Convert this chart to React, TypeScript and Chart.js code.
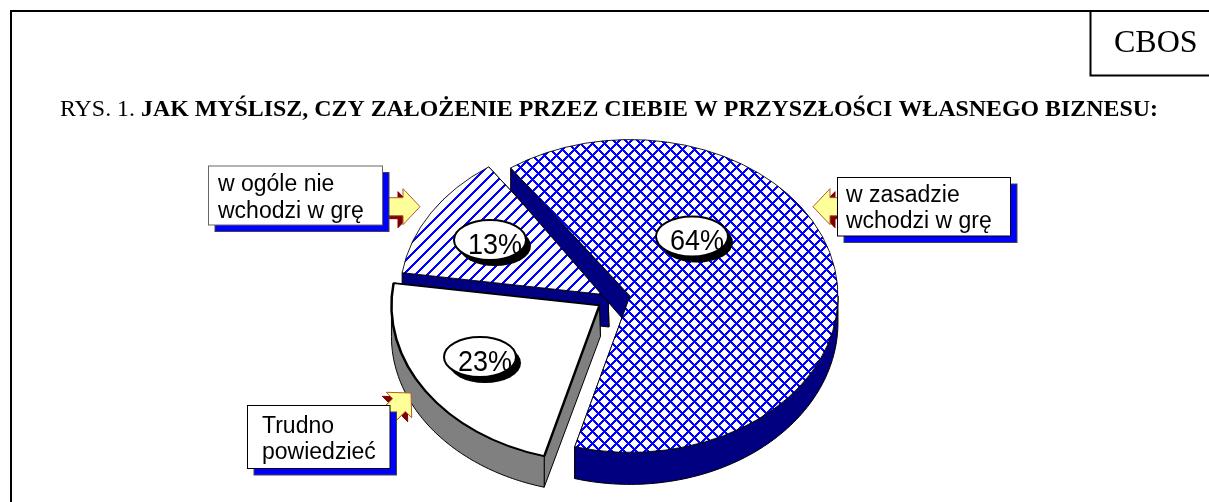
import React, { useEffect, useRef } from "react";
import Chart from "chart.js/auto";

// ---- data (clockwise from the start of the pie) ----
const categories = ["w ogóle nie wchodzi w grę", "w zasadzie wchodzi w grę", "Trudno powiedzieć"];
const shares = [13, 64, 23];
const titlePrefix = "RYS. 1. ";
const titleBold = "JAK MYŚLISZ, CZY ZAŁOŻENIE PRZEZ CIEBIE W PRZYSZŁOŚCI WŁASNEGO BIZNESU:";
const badge = "CBOS";
const calloutLines = [["w ogóle nie", "wchodzi w grę"], ["w zasadzie", "wchodzi w grę"], ["Trudno", "powiedzieć"]];

// ---- look ----
const W = 1209, H = 502;
const SQUASH = 0.752;
const CENTER_Y = 298;
const EXPLODE = [7.6, 15.7, 18];
const WALL = ["#000080", "#000080", "#808080"];
const APEX_DROP = [[1, 32], [-8, 22], [1, 31]];
const LABELS = [[490, 240], [692, 236.5], [480, 357]];
const SANS = '"Liberation Sans", Arial, sans-serif';
const SERIF = '"Liberation Serif", "Times New Roman", serif';

function tile(size: number, thick: number, up: boolean, down: boolean) {
  const c = document.createElement("canvas");
  c.width = c.height = size;
  const x = c.getContext("2d")!;
  x.fillStyle = "#fff";
  x.fillRect(0, 0, size, size);
  x.fillStyle = "#0000ff";
  for (let i = 0; i < size; i++) {
    for (let j = 0; j < size; j++) {
      const a = (i + j) % size < thick;
      const b = (i - j + size) % size < thick;
      if ((up && a) || (down && b)) x.fillRect(i, j, 1, 1);
    }
  }
  const p = document.createElement("canvas").getContext("2d")!.createPattern(c, "repeat")!;
  p.setTransform(new DOMMatrix().scale(1, 1 / SQUASH));
  return p;
}

function poly(ctx: CanvasRenderingContext2D, pts: number[][], fill: string, stroke = "#000", lw = 1) {
  ctx.beginPath();
  pts.forEach((p, i) => (i ? ctx.lineTo(p[0], p[1]) : ctx.moveTo(p[0], p[1])));
  ctx.closePath();
  ctx.fillStyle = fill;
  ctx.fill();
  ctx.lineWidth = lw;
  ctx.strokeStyle = stroke;
  ctx.stroke();
}

function drawSlice(ctx: CanvasRenderingContext2D, arc: any, i: number) {
  const { x, y, startAngle: a, endAngle: b, outerRadius: r } = arc;
  const mid = (a + b) / 2;
  const ex = EXPLODE[i] * Math.cos(mid);
  const ey = EXPLODE[i] * Math.sin(mid);
  const sx = x + ex;
  const sy = CENTER_Y + ey * SQUASH;
  const P = (t: number) => [sx + r * Math.cos(t), sy + SQUASH * r * Math.sin(t)];
  const depth = (py: number) => (i === 1 ? 22 + ((py - 170) * 10) / 283 : APEX_DROP[i][1]);
  const drop = (p: number[]) => [p[0], p[1] + depth(p[1])];
  const apex = [sx, sy];
  const apexLow = [sx + APEX_DROP[i][0], sy + APEX_DROP[i][1]];
  for (const t of [b, a]) {
    const q = P(t);
    poly(ctx, [q, apex, apexLow, drop(q)], WALL[i]);
  }
  for (let k = 0; k < 3; k++) {
    const lo = Math.max(a, 2 * Math.PI * k);
    const hi = Math.min(b, 2 * Math.PI * k + Math.PI);
    if (hi <= lo) continue;
    const top: number[][] = [];
    for (let n = 0; n <= 80; n++) top.push(P(lo + ((hi - lo) * n) / 80));
    poly(ctx, [...top, ...top.slice().reverse().map(drop)], WALL[i]);
  }
  ctx.save();
  ctx.imageSmoothingEnabled = false;
  ctx.translate(ex, CENTER_Y + ey * SQUASH);
  ctx.scale(1, SQUASH);
  ctx.translate(0, -y);
  arc.draw(ctx);
  ctx.restore();
}

function arrow(ctx: CanvasRenderingContext2D, tx: number, ty: number, ang: number, shaft: number, ox: number, oy: number) {
  const shape = (dx: number, dy: number) => {
    const loc = [[0, 0], [-17, -18], [-17, -9], [-shaft, -9], [-shaft, 9], [-17, 9], [-17, 18]];
    const c = Math.cos(ang), s = Math.sin(ang);
    return loc.map(([u, v]) => [tx + dx + u * c - v * s, ty + dy + u * s + v * c]);
  };
  poly(ctx, shape(ox, oy), "#800000", "#800000", 1);
  poly(ctx, shape(0, 0), "#ffff99", "#b05a30", 1);
}

function callout(ctx: CanvasRenderingContext2D, x: number, y: number, w: number, h: number, lines: string[], tx: number, base: number[], edge: string) {
  ctx.fillStyle = "#0000ff";
  ctx.strokeStyle = "#444";
  ctx.lineWidth = 1;
  ctx.fillRect(x + 6.5, y + 6.5, w, h);
  ctx.strokeRect(x + 6.5, y + 6.5, w, h);
  ctx.fillStyle = "#fff";
  ctx.fillRect(x, y, w, h);
  ctx.strokeStyle = edge;
  ctx.strokeRect(x, y, w, h);
  ctx.fillStyle = "#000";
  ctx.font = `23px ${SANS}`;
  ctx.textAlign = "left";
  ctx.textBaseline = "alphabetic";
  lines.forEach((l, i) => ctx.fillText(l, tx, base[i]));
}

const piePlugin = {
  id: "pie3d",
  beforeDraw(chart: any) {
    const ctx = chart.ctx;
    ctx.save();
    ctx.fillStyle = "#fff";
    ctx.fillRect(0, 0, W, H);
    ctx.restore();
  },
  beforeDatasetsDraw(chart: any) {
    const ctx = chart.ctx;
    chart.getDatasetMeta(0).data.forEach((arc: any, i: number) => drawSlice(ctx, arc, i));
    return false;
  },
  afterDraw(chart: any) {
    const ctx = chart.ctx;
    ctx.save();
    // frame
    ctx.strokeStyle = "#000";
    ctx.lineWidth = 2;
    ctx.beginPath();
    ctx.moveTo(11, H);
    ctx.lineTo(11, 11);
    ctx.lineTo(W, 11);
    ctx.moveTo(1090.5, 11);
    ctx.lineTo(1090.5, 75.5);
    ctx.lineTo(W, 75.5);
    ctx.stroke();
    ctx.fillStyle = "#000";
    ctx.textAlign = "left";
    ctx.textBaseline = "alphabetic";
    ctx.font = `32px ${SERIF}`;
    ctx.fillText(badge, 1114, 52);
    // title
    ctx.font = `23.9px ${SERIF}`;
    ctx.fillText(titlePrefix, 60, 116);
    const w0 = ctx.measureText(titlePrefix).width;
    ctx.font = `bold 23.9px ${SERIF}`;
    ctx.fillText(titleBold, 60 + w0, 116);
    // percent labels
    shares.forEach((v, i) => {
      const [lx, ly] = LABELS[i];
      ctx.beginPath();
      ctx.ellipse(lx + 5, ly + 6, 36, 20, 0, 0, 2 * Math.PI);
      ctx.fillStyle = "#000";
      ctx.fill();
      ctx.beginPath();
      ctx.ellipse(lx, ly, 36, 20, 0, 0, 2 * Math.PI);
      ctx.fillStyle = "#fff";
      ctx.fill();
      ctx.lineWidth = 2;
      ctx.strokeStyle = "#000";
      ctx.stroke();
      ctx.fillStyle = "#000";
      ctx.save();
      ctx.translate(lx + 5, ly + 13.5);
      ctx.scale(0.93, 1);
      ctx.font = `29px ${SANS}`;
      ctx.textAlign = "center";
      ctx.textBaseline = "alphabetic";
      ctx.fillText(`${v}%`, 0, 0);
      ctx.restore();
    });
    // callouts
    arrow(ctx, 420, 206.7, 0, 40, -5, 3);
    callout(ctx, 208.5, 166, 174, 59, calloutLines[0], 218, [191, 217.7], "#666");
    arrow(ctx, 813, 206.7, Math.PI, 40, 5, 3);
    callout(ctx, 837.5, 177.5, 173, 58.5, calloutLines[1], 846, [201.7, 228.3], "#000");
    arrow(ctx, 411, 393, -Math.PI / 4, 40, -4, 4);
    callout(ctx, 247.5, 405.5, 142.5, 63, calloutLines[2], 262, [433.3, 459], "#000");
    ctx.restore();
  },
};

export default function App() {
  const ref = useRef<HTMLCanvasElement>(null);
  useEffect(() => {
    const chart = new Chart(ref.current!, {
      type: "pie",
      data: {
        labels: categories,
        datasets: [
          {
            data: shares,
            backgroundColor: [tile(12, 3, true, false), tile(12, 3, true, true), "#ffffff"],
            borderColor: "#000",
            borderWidth: [1, 1, 2.5],
            radius: 208,
          } as any,
        ],
      },
      options: {
        responsive: false,
        animation: false,
        devicePixelRatio: 1,
        rotation: 278.2,
        layout: { padding: { left: 20 } },
        events: [],
        plugins: { legend: { display: false }, tooltip: { enabled: false } },
      } as any,
      plugins: [piePlugin as any],
    });
    return () => chart.destroy();
  }, []);
  return <canvas ref={ref} width={W} height={H} style={{ position: "absolute", left: 0, top: 0, display: "block" }} />;
}
